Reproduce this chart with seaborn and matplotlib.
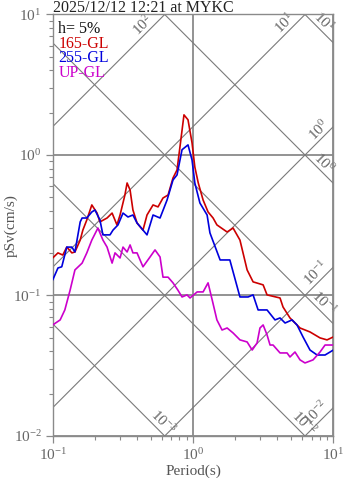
import numpy as np
import pandas as pd
import matplotlib
matplotlib.use("Agg")
import matplotlib.pyplot as plt
import matplotlib.ticker as mticker
import seaborn as sns

# ---------------- data ----------------
title = "2025/12/12 12:21 at MYKC"
damping_label = "h= 5%"
components = ["165-GL", "255-GL", "UP-GL"]
component_colors = ["#cc0000", "#0000dd", "#cc00cc"]

period_165 = [0.100, 0.109, 0.118, 0.126, 0.137, 0.144, 0.157, 0.164, 0.175, 0.190,
              0.207, 0.217, 0.244, 0.265, 0.287, 0.302, 0.327, 0.339, 0.356, 0.373,
              0.399, 0.440, 0.470, 0.519, 0.563, 0.611, 0.664, 0.720, 0.769, 0.807,
              0.862, 0.921, 0.984, 1.03, 1.09, 1.18, 1.28, 1.39, 1.48, 1.75,
              1.93, 2.16, 2.43, 2.68, 3.16, 3.37, 4.17, 4.38, 4.91, 5.79,
              6.82, 8.04, 9.02, 10.0]
psv_165 = [0.185, 0.201, 0.194, 0.221, 0.201, 0.204, 0.248, 0.292, 0.345, 0.441,
           0.386, 0.334, 0.356, 0.386, 0.318, 0.374, 0.519, 0.632, 0.563, 0.406,
           0.328, 0.292, 0.374, 0.441, 0.427, 0.494, 0.519, 0.686, 0.782, 1.14,
           1.93, 1.78, 1.22, 0.822, 0.632, 0.478, 0.393, 0.356, 0.318, 0.283,
           0.302, 0.248, 0.152, 0.125, 0.119, 0.101, 0.0960, 0.0828, 0.0692, 0.0587,
           0.0550, 0.0499, 0.0483, 0.0507]

period_255 = [0.100, 0.109, 0.116, 0.126, 0.137, 0.144, 0.157, 0.162, 0.175, 0.190,
              0.200, 0.217, 0.228, 0.256, 0.269, 0.292, 0.317, 0.344, 0.373, 0.399,
              0.440, 0.470, 0.519, 0.582, 0.653, 0.720, 0.769, 0.835, 0.921, 0.984,
              1.03, 1.12, 1.26, 1.32, 1.56, 1.83, 2.16, 2.47, 2.68, 2.91,
              3.37, 3.84, 4.17, 4.53, 5.08, 5.51, 6.08, 6.82, 7.66, 8.73, 10.0]
psv_255 = [0.129, 0.157, 0.160, 0.221, 0.221, 0.204, 0.334, 0.356, 0.356, 0.393,
           0.406, 0.345, 0.270, 0.270, 0.292, 0.318, 0.386, 0.362, 0.374, 0.328,
           0.292, 0.270, 0.374, 0.356, 0.478, 0.664, 0.721, 1.09, 1.18, 0.921,
           0.632, 0.455, 0.374, 0.279, 0.179, 0.179, 0.0976, 0.0976, 0.101, 0.0789,
           0.0789, 0.0670, 0.0692, 0.0637, 0.0670, 0.0617, 0.0507, 0.0409, 0.0377, 0.0377, 0.0409]

period_up = [0.100, 0.113, 0.122, 0.133, 0.144, 0.162, 0.175, 0.190, 0.210, 0.228,
             0.244, 0.265, 0.278, 0.302, 0.317, 0.339, 0.356, 0.373, 0.399, 0.440,
             0.494, 0.536, 0.582, 0.611, 0.664, 0.720, 0.781, 0.835, 0.906, 0.952,
             1.07, 1.18, 1.28, 1.37, 1.48, 1.61, 1.75, 1.93, 2.16, 2.43,
             2.64, 2.86, 3.00, 3.16, 3.37, 3.54, 3.72, 4.17, 4.68, 4.91,
             5.33, 5.79, 6.28, 7.17, 8.04, 8.73, 10.0]
psv_up = [0.0617, 0.0670, 0.0789, 0.109, 0.152, 0.170, 0.201, 0.248, 0.302, 0.248,
          0.221, 0.170, 0.201, 0.185, 0.221, 0.204, 0.229, 0.201, 0.201, 0.160,
          0.188, 0.211, 0.188, 0.135, 0.135, 0.123, 0.109, 0.0976, 0.101, 0.0960,
          0.106, 0.106, 0.123, 0.0929, 0.0670, 0.0568, 0.0587, 0.0541, 0.0483, 0.0467,
          0.0409, 0.0459, 0.0587, 0.0617, 0.0524, 0.0444, 0.0444, 0.0390, 0.0390, 0.0365,
          0.0396, 0.0348, 0.0331, 0.0348, 0.0396, 0.0444, 0.0444]

# tripartite grid: constant pseudo-acceleration (gal) and displacement (cm)
accel_levels = [1e-2, 1e-1, 1e0, 1e1, 1e2]
accel_exps = [-2, -1, 0, 1, 2]
disp_levels = [1e-3, 1e-2, 1e-1, 1e0, 1e1]
disp_exps = [-3, -2, -1, 0, 1]

# ---------------- style ----------------
sns.set_style("ticks")
plt.rcParams.update({
    "font.family": ["Liberation Serif", "DejaVu Serif"],
    "mathtext.fontset": "custom",
    "mathtext.rm": "Liberation Serif",
    "mathtext.it": "Liberation Serif:italic",
    "mathtext.bf": "Liberation Serif:bold",
})

GRID = "#8a8a8a"
DIAG = "#7a7a7a"
TXT = "#666666"

fig = plt.figure(figsize=(3.47, 4.78), dpi=100)
ax = fig.add_axes([0.1519, 0.0879, 0.8087, 0.8818])
ax.set_xscale("log")
ax.set_yscale("log")
ax.set_xlim(0.1, 10)
ax.set_ylim(0.01, 10)

# decade grid
ax.grid(which="major", color=GRID, lw=1.3)
ax.grid(which="minor", visible=False)

# diagonal lines
tt = np.logspace(-1.2, 1.2, 50)
for a in accel_levels:
    ax.plot(tt, a * tt / (2 * np.pi), color=DIAG, lw=0.8, zorder=1)
for d in disp_levels:
    ax.plot(tt, 2 * np.pi * d / tt, color=DIAG, lw=0.8, zorder=1)

# diagonal labels, sitting on their lines
accel_label_T = [8.3, 8.3, 8.65, 4.95, 0.482]
disp_label_T = [0.553, 5.6, 7.8, 7.8, 7.78]
for a, e, t in zip(accel_levels, accel_exps, accel_label_T):
    ax.text(t, a * t / (2 * np.pi), rf"$10^{{{e}}}$", rotation=45,
            rotation_mode="anchor", ha="center", va="bottom",
            fontsize=11, color=TXT, zorder=2)
for d, e, t in zip(disp_levels, disp_exps, disp_label_T):
    ax.text(t, 2 * np.pi * d / t, rf"$10^{{{e}}}$", rotation=-45,
            rotation_mode="anchor", ha="center", va="bottom",
            fontsize=11, color=TXT, zorder=2)

# response spectra
df = pd.concat([
    pd.DataFrame({"period": period_165, "psv": psv_165, "component": components[0]}),
    pd.DataFrame({"period": period_255, "psv": psv_255, "component": components[1]}),
    pd.DataFrame({"period": period_up, "psv": psv_up, "component": components[2]}),
], ignore_index=True)
sns.lineplot(data=df, x="period", y="psv", hue="component",
             hue_order=components, palette=component_colors,
             estimator=None, sort=False, legend=False, lw=1.2, ax=ax, zorder=5)

ax.set_xlim(0.1, 10)
ax.set_ylim(0.01, 10)

# axes decoration
for s in ax.spines.values():
    s.set_color(GRID)
    s.set_linewidth(1.0)
ax.tick_params(which="major", direction="out", length=5, width=0.9, color=GRID,
               labelcolor=TXT, labelsize=11, top=False, right=False, pad=3)
ax.tick_params(which="minor", direction="out", length=3, width=0.8, color=GRID,
               top=False, right=False)
ax.xaxis.set_minor_formatter(mticker.NullFormatter())
ax.yaxis.set_minor_formatter(mticker.NullFormatter())

ax.set_xlabel("Period(s)", fontsize=11, color="#555555", labelpad=1)
ax.set_ylabel("pSv(cm/s)", fontsize=11, color="#555555")
ax.yaxis.set_label_coords(-0.125, 0.5)

# title and legend text
fig.text(53 / 347, 1 - 11.5 / 478, title, fontsize=11.5, color="#222222", va="baseline")
legend_items = [damping_label] + components
legend_colors = ["#111111"] + component_colors
for i, (lbl, c) in enumerate(zip(legend_items, legend_colors)):
    fig.text(58.3 / 347, 1 - (33 + 14.7 * i) / 478, lbl, fontsize=11.5, color=c,
             va="baseline")

fig.savefig("out.png", dpi=100)
